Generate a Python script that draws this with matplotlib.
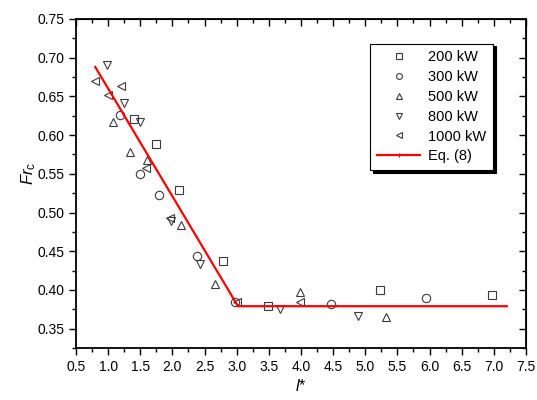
import matplotlib.pyplot as plt
from matplotlib.lines import Line2D
from matplotlib.ticker import MultipleLocator

plt.rcParams['font.family'] = ['Liberation Sans', 'DejaVu Sans']
plt.rcParams['mathtext.fontset'] = 'custom'
plt.rcParams['mathtext.rm'] = 'Liberation Sans'
plt.rcParams['mathtext.it'] = 'Liberation Sans:italic'

# measured points, one list per heat release rate
x_200 = [1.40, 1.75, 2.10, 2.79, 3.49, 5.23, 6.97]
y_200 = [0.621, 0.589, 0.529, 0.438, 0.379, 0.400, 0.393]
x_300 = [1.19, 1.50, 1.79, 2.39, 2.97, 4.47, 5.95]
y_300 = [0.626, 0.550, 0.523, 0.444, 0.384, 0.382, 0.390]
x_500 = [1.07, 1.34, 1.61, 2.13, 2.67, 3.99, 5.33]
y_500 = [0.617, 0.578, 0.568, 0.484, 0.408, 0.397, 0.365]
x_800 = [0.99, 1.24, 1.49, 1.98, 2.43, 3.67, 4.89]
y_800 = [0.691, 0.641, 0.617, 0.489, 0.433, 0.375, 0.366]
x_1000 = [0.80, 1.00, 1.20, 1.59, 1.96, 3.00, 3.98]
y_1000 = [0.670, 0.652, 0.663, 0.558, 0.493, 0.385, 0.384]

# Eq. (8) fit
x_eq = [0.8, 3.02, 7.2]
y_eq = [0.688, 0.379, 0.379]

series = [
    (x_200, y_200, 's', '200 kW'),
    (x_300, y_300, 'o', '300 kW'),
    (x_500, y_500, '^', '500 kW'),
    (x_800, y_800, 'v', '800 kW'),
    (x_1000, y_1000, '<', '1000 kW'),
]

fig = plt.figure(figsize=(5.37, 4.0), dpi=100)
ax = fig.add_axes([0.1415, 0.13, 0.838, 0.8225])

handles = []
for xs, ys, mk, lab in series:
    h, = ax.plot(xs, ys, linestyle='none', marker=mk, markersize=6,
                 markerfacecolor='none', markeredgecolor='#3a3a3a',
                 markeredgewidth=0.8, label=lab)
    handles.append(h)

ax.plot(x_eq, y_eq, color='red', linewidth=1.6)
handles.append(Line2D([], [], color='red', linewidth=1.6, marker='+',
                      markersize=4, markeredgewidth=0.8, label='Eq. (8)'))

ax.set_xlim(0.5, 7.5)
ax.set_ylim(0.325, 0.75)
ax.xaxis.set_major_locator(MultipleLocator(0.5))
ax.xaxis.set_minor_locator(MultipleLocator(0.25))
ax.yaxis.set_major_locator(MultipleLocator(0.05))
ax.yaxis.set_minor_locator(MultipleLocator(0.025))
ax.xaxis.set_major_formatter(lambda v, p: f'{v:.1f}')
ax.yaxis.set_major_formatter(lambda v, p: f'{v:.2f}')

ax.tick_params(which='both', direction='out', width=1, labelsize=10, colors='black')
ax.tick_params(which='major', length=5)
ax.tick_params(which='minor', length=3)
for s in ax.spines.values():
    s.set_linewidth(1.3)

# mirrored ticks on top and right, pointing inward
axt = ax.secondary_xaxis('top')
axt.xaxis.set_major_locator(MultipleLocator(0.5))
axt.xaxis.set_minor_locator(MultipleLocator(0.25))
axt.tick_params(which='both', direction='in', labeltop=False, width=1)
axt.tick_params(which='major', length=5)
axt.tick_params(which='minor', length=3)
axr = ax.secondary_yaxis('right')
axr.yaxis.set_major_locator(MultipleLocator(0.05))
axr.yaxis.set_minor_locator(MultipleLocator(0.025))
axr.tick_params(which='both', direction='in', labelright=False, width=1)
axr.tick_params(which='major', length=5)
axr.tick_params(which='minor', length=3)

ax.set_xlabel(r'$l$*', fontsize=11.5, labelpad=3)
ax.set_ylabel(r'$Fr_{\mathrm{c}}$', fontsize=12)
ax.yaxis.set_label_coords(-0.085, 0.53)

leg = ax.legend(handles=handles, loc='upper right', bbox_to_anchor=(0.927, 0.925),
                borderaxespad=0, fontsize=10.5, frameon=True, fancybox=False,
                numpoints=1, markerscale=0.7, handlelength=3.0, handletextpad=0.55,
                labelspacing=0.4, borderpad=0.45,
                shadow={'color': 'black', 'alpha': 1})
leg.get_frame().set_edgecolor('black')
leg.get_frame().set_linewidth(0.8)

fig.savefig('out.png', dpi=100)
